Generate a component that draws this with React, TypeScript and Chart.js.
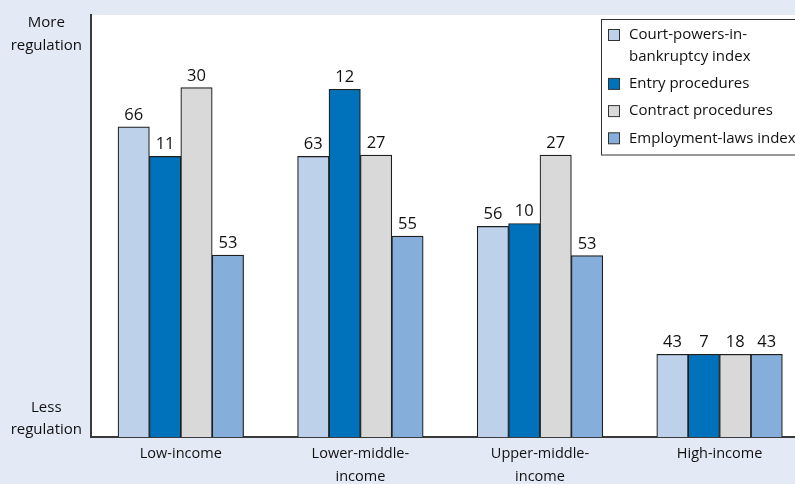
import React, { useEffect, useRef } from "react";
import { Chart, registerables } from "chart.js";

Chart.register(...registerables);

// ---- data ----
const categories: string[][] = [
  ["Low-income"],
  ["Lower-middle-", "income"],
  ["Upper-middle-", "income"],
  ["High-income"],
];
const seriesNames: string[][] = [
  ["Court-powers-in-", "bankruptcy index"],
  ["Entry procedures"],
  ["Contract procedures"],
  ["Employment-laws index"],
];
// bar heights on a relative 0–100 "regulation" scale
const courtHeights = [73.5, 66.5, 49.9, 19.6];
const entryHeights = [66.5, 82.4, 50.6, 19.6];
const contractHeights = [82.8, 66.8, 66.8, 19.6];
const employmentHeights = [43.1, 47.6, 43.0, 19.6];
// printed values above the bars
const courtValues = [66, 63, 56, 43];
const entryValues = [11, 12, 10, 7];
const contractValues = [30, 27, 27, 18];
const employmentValues = [53, 55, 53, 43];
// y-axis end labels
const yTickValues = [4.3, 95.5];
const yTickLabels: string[][] = [
  ["Less", "regulation"],
  ["More", "regulation"],
];

const heights = [courtHeights, entryHeights, contractHeights, employmentHeights];
const values = [courtValues, entryValues, contractValues, employmentValues];
const colors = ["#bdd1eb", "#0072bc", "#d9d9d9", "#86aedb"];

const FONT = "'Open Sans', 'DejaVu Sans', sans-serif";
const TEXT = "#111111";
const BG = "#e3e9f5";

const backgroundPlugin = {
  id: "bgPlugin",
  beforeDraw(chart: any) {
    const { ctx, chartArea } = chart;
    ctx.save();
    ctx.fillStyle = BG;
    ctx.fillRect(0, 0, chart.width, chart.height);
    ctx.fillStyle = "#ffffff";
    ctx.fillRect(chartArea.left, chartArea.top, chartArea.right - chartArea.left, chartArea.bottom - chartArea.top);
    ctx.restore();
  },
};

const valueLabelPlugin = {
  id: "valueLabels",
  afterDatasetsDraw(chart: any) {
    const { ctx } = chart;
    ctx.save();
    ctx.font = `16.5px ${FONT}`;
    ctx.fillStyle = TEXT;
    ctx.textAlign = "center";
    ctx.textBaseline = "alphabetic";
    chart.data.datasets.forEach((_: any, i: number) => {
      const meta = chart.getDatasetMeta(i);
      meta.data.forEach((el: any, j: number) => {
        ctx.fillText(String(values[i][j]), el.x, el.y - 7);
      });
    });
    ctx.restore();
  },
};

const boxLegendPlugin = {
  id: "boxLegend",
  afterDraw(chart: any) {
    const { ctx } = chart;
    ctx.save();
    const bx = 601.5, by = 19.5, bw = 230, bh = 135.5;
    ctx.fillStyle = "#ffffff";
    ctx.fillRect(bx, by, bw, bh);
    ctx.strokeStyle = "#333333";
    ctx.lineWidth = 1;
    ctx.strokeRect(bx, by, bw, bh);
    ctx.font = `15px ${FONT}`;
    ctx.textBaseline = "middle";
    ctx.textAlign = "left";
    let y = 35;
    seriesNames.forEach((lines, i) => {
      ctx.fillStyle = colors[i];
      ctx.fillRect(608.5, y - 5.5, 11, 11);
      ctx.strokeStyle = "#333333";
      ctx.strokeRect(608.5, y - 5.5, 11, 11);
      ctx.fillStyle = TEXT;
      lines.forEach((t, k) => ctx.fillText(t, 629, y + k * 21.7));
      y += (lines.length - 1) * 21.7 + 27.2;
    });
    ctx.restore();
  },
};

export default function App() {
  const ref = useRef<HTMLCanvasElement | null>(null);

  useEffect(() => {
    if (!ref.current) return;
    const chart = new Chart(ref.current, {
      type: "bar",
      data: {
        datasets: seriesNames.map((n, i) => ({
          label: n.join(""),
          data: heights[i].map((h, j) => ({ x: j, y: h })),
          backgroundColor: colors[i],
          borderColor: "#1e1e1e",
          borderWidth: 1.2,
          barThickness: 31.4,
        })),
      },
      options: {
        animation: false,
        responsive: false,
        maintainAspectRatio: false,
        layout: { padding: { top: 15, left: 0, right: 0, bottom: 0 } },
        plugins: {
          legend: { display: false },
          tooltip: { enabled: false },
        },
        scales: {
          x: {
            type: "linear",
            min: -0.5,
            max: 3.42,
            offset: false,
            afterBuildTicks: (s: any) => {
              s.ticks = categories.map((_, i) => ({ value: i }));
            },
            afterFit: (s: any) => {
              s.height = 47;
              s.paddingLeft = 0;
              s.paddingRight = 0;
            },
            ticks: {
              callback: (_v: any, i: number) => categories[i],
              font: { family: FONT, size: 14.5, lineHeight: 1.6 },
              color: TEXT,
              padding: 5,
              maxRotation: 0,
              autoSkip: false,
            },
            grid: { display: false, drawTicks: false },
            border: { display: true, color: "#3a3a3a", width: 2 },
          },
          y: {
            min: 0,
            max: 100,
            afterBuildTicks: (s: any) => {
              s.ticks = yTickValues.map((v) => ({ value: v }));
            },
            afterFit: (s: any) => {
              s.width = 91;
              s.paddingTop = 0;
              s.paddingBottom = 0;
            },
            ticks: {
              callback: (_v: any, i: number) => yTickLabels[i],
              crossAlign: "center",
              padding: 9,
              font: { family: FONT, size: 15, lineHeight: 1.5 },
              color: TEXT,
              autoSkip: false,
            },
            grid: { display: false, drawTicks: false },
            border: { display: true, color: "#3a3a3a", width: 2 },
          },
        },
      },
      plugins: [backgroundPlugin, valueLabelPlugin, boxLegendPlugin],
    } as any);
    return () => chart.destroy();
  }, []);

  return (
    <div style={{ position: "absolute", left: 0, top: 0, width: 795, height: 484 }}>
      <canvas ref={ref} width={795} height={484} style={{ display: "block", width: 795, height: 484 }} />
    </div>
  );
}
